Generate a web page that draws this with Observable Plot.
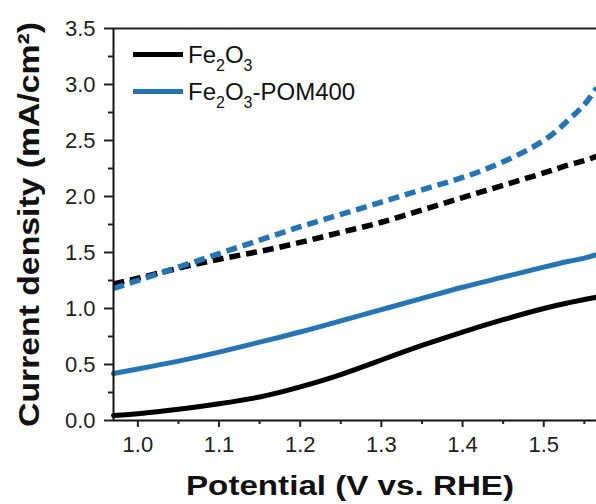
<!DOCTYPE html>
<html><head><meta charset="utf-8">
<script src="https://cdn.jsdelivr.net/npm/d3@7"></script>
<script src="https://cdn.jsdelivr.net/npm/@observablehq/plot@0.6"></script>
<style>
body{margin:0;background:#fff;}
#wrap{position:relative;width:596px;height:504px;font-family:Arial,"Liberation Sans",sans-serif;}
#legend{position:absolute;left:133px;top:36px;}
.row{display:flex;align-items:center;height:37px;font-size:24px;color:#111;white-space:nowrap}
.sw{width:50px;height:5px;margin-right:5px;}
.sub{font-size:16px;position:relative;top:8px;}
</style></head><body><div id="wrap"><div id="legend"></div></div>
<script>
// Potential (V vs. RHE)
const potential = [0.97, 1.0, 1.05, 1.1, 1.15, 1.2, 1.25, 1.3, 1.35, 1.4, 1.45, 1.5, 1.53, 1.55, 1.565];
// solid lines
const fe2o3Solid = [0.045, 0.06, 0.10, 0.15, 0.21, 0.30, 0.41, 0.54, 0.67, 0.79, 0.90, 1.00, 1.05, 1.08, 1.10];
const pomSolid   = [0.42, 0.46, 0.53, 0.61, 0.70, 0.79, 0.89, 0.99, 1.09, 1.19, 1.28, 1.37, 1.42, 1.45, 1.48];
// dashed lines
const fe2o3Dashed = [1.22, 1.27, 1.36, 1.44, 1.51, 1.59, 1.68, 1.77, 1.88, 1.99, 2.10, 2.21, 2.28, 2.32, 2.36];
const pomDashed   = [1.18, 1.25, 1.37, 1.49, 1.61, 1.73, 1.84, 1.95, 2.06, 2.17, 2.31, 2.50, 2.68, 2.82, 2.97];

const seriesNames = ["Fe2O3", "Fe2O3-POM400"];
const legendParts = [["Fe", "2", "O", "3", ""], ["Fe", "2", "O", "3", "-POM400"]];
const seriesColors = ["#000000", "#2574b4"];

const xMajor = [1.0, 1.1, 1.2, 1.3, 1.4, 1.5];
const xMinor = [1.05, 1.15, 1.25, 1.35, 1.45, 1.55];
const yMajor = [0.0, 0.5, 1.0, 1.5, 2.0, 2.5, 3.0, 3.5];
const yMinor = [0.25, 0.75, 1.25, 1.75, 2.25, 2.75, 3.25];
const xDomain = [0.97, 1.565];
const yDomain = [0, 3.5];
const xTitle = "Potential (V vs. RHE)";
const yTitle = "Current density (mA/cm²)";

const rows = [];
const sets = [
  [fe2o3Solid, seriesNames[0], "solid"],
  [pomSolid, seriesNames[1], "solid"],
  [fe2o3Dashed, seriesNames[0], "dashed"],
  [pomDashed, seriesNames[1], "dashed"]
];
for (const [arr, name, style] of sets) {
  arr.forEach((v, i) => rows.push({x: potential[i], y: v, series: name, style, key: name + style}));
}
const colorOf = n => seriesColors[seriesNames.indexOf(n)];

const chart = Plot.plot({
  width: 596, height: 504,
  marginLeft: 113, marginRight: 0, marginTop: 28, marginBottom: 84,
  style: {fontFamily: "Arial, 'Liberation Sans', sans-serif", background: "#fff"},
  x: {domain: xDomain},
  y: {domain: yDomain},
  marks: [
    Plot.line(rows.filter(d => d.style === "solid"), {x: "x", y: "y", z: "key", stroke: d => colorOf(d.series), strokeWidth: 5, curve: "natural"}),
    Plot.line(rows.filter(d => d.style === "dashed"), {x: "x", y: "y", z: "key", stroke: d => colorOf(d.series), strokeWidth: 5.5, strokeDasharray: "11,6", strokeLinecap: "butt", curve: "natural"}),
    Plot.ruleY([yDomain[0]], {stroke: "#111", strokeWidth: 2}),
    Plot.ruleY([yDomain[1]], {stroke: "#222", strokeWidth: 2}),
    Plot.ruleX([xDomain[0]], {stroke: "#111", strokeWidth: 2}),
    Plot.axisX({ticks: xMajor, tickSize: 7, tickPadding: 9, tickFormat: d3.format(".1f"), fontSize: 22, color: "#222", strokeWidth: 2, label: null}),
    Plot.axisX({ticks: xMinor, tickSize: 4, tickFormat: () => "", color: "#222", strokeWidth: 2, label: null}),
    Plot.axisY({ticks: yMajor, tickSize: 9, tickPadding: 9, tickFormat: d3.format(".1f"), fontSize: 22, color: "#222", strokeWidth: 2, label: null}),
    Plot.axisY({ticks: yMinor, tickSize: 5, tickFormat: () => "", color: "#222", strokeWidth: 2, label: null}),
    Plot.text([xTitle], {frameAnchor: "bottom", textAnchor: "middle", lineAnchor: "middle", dx: -5, dy: 66, fontSize: 28, fontWeight: "bold", fill: "#111"}),
    Plot.text([yTitle], {frameAnchor: "left", textAnchor: "middle", lineAnchor: "middle", dx: -84, rotate: -90, fontSize: 30, fontWeight: "bold", fill: "#111"})
  ]
});
// stretch the titles to the reference's text lengths
d3.select(chart).selectAll("text").each(function() {
  const t = this.textContent;
  if (t === xTitle) { this.setAttribute("textLength", 328); this.setAttribute("lengthAdjust", "spacingAndGlyphs"); }
  if (t === yTitle) { this.setAttribute("textLength", 405); this.setAttribute("lengthAdjust", "spacingAndGlyphs"); }
});
const wrap = document.getElementById("wrap");
wrap.insertBefore(chart, wrap.firstChild);

const legend = document.getElementById("legend");
legendParts.forEach((parts, i) => {
  const row = document.createElement("div");
  row.className = "row";
  const sw = document.createElement("div");
  sw.className = "sw";
  sw.style.background = seriesColors[i];
  row.appendChild(sw);
  const label = document.createElement("span");
  parts.forEach((p, j) => {
    const s = document.createElement("span");
    s.textContent = p;
    if (j === 1 || j === 3) s.className = "sub";
    label.appendChild(s);
  });
  row.appendChild(label);
  legend.appendChild(row);
});
</script></body></html>
